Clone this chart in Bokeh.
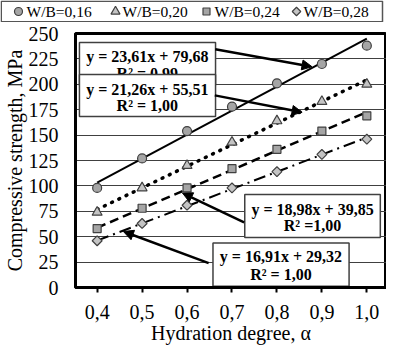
from bokeh.plotting import figure
from bokeh.layouts import column
from bokeh.models import (Range1d, FixedTicker, CustomJSTickFormatter,
                          Arrow, NormalHead)
from bokeh.core.properties import value
from bokeh.embed import file_html
from bokeh.resources import INLINE

# ---------------- data ----------------
hydration = [0.4, 0.5, 0.6, 0.7, 0.8, 0.9, 1.0]
series_labels = ["W/B=0,16", "W/B=0,20", "W/B=0,24", "W/B=0,28"]
wb016 = [98, 127, 154, 178, 201, 220, 238]
wb020 = [74, 98, 120, 143, 164, 183, 200]
wb024 = [58, 78, 98, 117, 136, 154, 169]
wb028 = [46, 63, 81, 98, 114, 131, 146]
# linear trend lines (value at alpha=0.4 and alpha=1.0)
trend_start = [103.3, 76.8, 58.8, 46.2]
trend_end = [244.9, 204.3, 172.7, 147.7]
equations = ["y = 23,61x + 79,68", "y = 21,26x + 55,51",
             "y = 18,98x + 39,85", "y = 16,91x + 29,32"]
r2_texts = ["R² = 0,99", "R² = 1,00", "R² =1,00", "R² = 1,00"]
y_ticks = [0, 25, 50, 75, 100, 125, 150, 175, 200, 225, 250]
x_ticks = [0.4, 0.5, 0.6, 0.7, 0.8, 0.9, 1.0]

series = [wb016, wb020, wb024, wb028]

# ---------------- styles ----------------
FONT = "Liberation Serif"
markers = ["circle", "triangle", "square", "square"]
marker_sizes = [9, 10, 8, 7]
legend_marker_sizes = [8, 9, 7, 6]
marker_angles = [0, 0, 0, 0.785398]
marker_fills = ["#a5a5a5", "#c4c4c4", "#a5a5a5", "#c4c4c4"]
line_dashes = ["solid", "1 7", "9 5", "12 5 2 5"]
line_widths = [2, 3.5, 2.5, 2]
line_caps = ["butt", "round", "butt", "butt"]

# annotation boxes (data coords): left, right, bottom, top, center x, line1 y, line2 y
boxes = [
    (0.3606, 0.6634, 199.0, 241.1, 0.5117, 226.9, 211.0),
    (0.3606, 0.6634, 168.3, 209.6, 0.5117, 194.9, 178.8),
    (0.7284, 1.0300, 49.3, 91.6, 0.8792, 76.9, 61.5),
    (0.6577, 0.9605, 1.3, 43.9, 0.8090, 30.5, 12.8),
]
arrows = [
    (0.6628, 234.6, 0.878, 217.3),
    (0.6617, 189.1, 0.856, 172.4),
    (0.7269, 64.1, 0.5898, 93.0),
    (0.6481, 24.0, 0.4584, 55.1),
]
# legend strip layout (pixel coords inside the strip)
leg_marker_x = [18, 115, 206, 296]
leg_text_x = [26, 122, 214, 303]

W = 386
LEG_H = 22
MAIN_H = 346 - LEG_H
TOP = 11
FRAME_H = 259

p = figure(width=W, height=MAIN_H, output_backend="svg", toolbar_location=None,
           x_range=Range1d(0.35183, 1.04375), y_range=Range1d(0, 250),
           min_border_left=70, min_border_right=0, min_border_top=TOP,
           min_border_bottom=MAIN_H - TOP - FRAME_H)
p.frame_align = False
p.background_fill_color = "white"
p.border_fill_color = "white"
p.outline_line_color = "black"
p.outline_line_width = 3
p.xgrid.visible = False
p.ygrid.grid_line_color = "#404040"
p.ygrid.grid_line_width = 1

# y axis
ya = p.yaxis[0]
ya.ticker = FixedTicker(ticks=y_ticks)
ya.major_tick_out = 0
ya.major_tick_in = 0
ya.minor_tick_out = 0
ya.minor_tick_in = 0
ya.axis_line_width = 3
ya.major_label_text_font = FONT
ya.major_label_text_font_size = "20px"
ya.major_label_text_color = "black"
ya.major_label_standoff = 17
ya.axis_label = "Compressive strength, MPa"
ya.axis_label_text_font = FONT
ya.axis_label_text_font_size = "20px"
ya.axis_label_text_font_style = "normal"
ya.axis_label_text_color = "black"
ya.axis_label_standoff = 0

# x axis
xa = p.xaxis[0]
xa.ticker = FixedTicker(ticks=x_ticks)
xa.formatter = CustomJSTickFormatter(code="return tick.toFixed(1).replace('.', ',');")
xa.major_tick_out = 5
xa.major_tick_in = 0
xa.major_tick_line_width = 2
xa.minor_tick_out = 0
xa.minor_tick_in = 0
xa.axis_line_width = 3
xa.major_label_text_font = FONT
xa.major_label_text_font_size = "20px"
xa.major_label_text_color = "black"
xa.major_label_standoff = 12
xa.axis_label = "Hydration degree, α"
xa.axis_label_text_font = FONT
xa.axis_label_text_font_size = "20px"
xa.axis_label_text_font_style = "normal"
xa.axis_label_text_color = "black"
xa.axis_label_standoff = 0

# trend lines
for i in range(4):
    p.line([hydration[0], hydration[-1]], [trend_start[i], trend_end[i]],
           line_color="black", line_width=line_widths[i],
           line_dash=line_dashes[i], line_cap=line_caps[i])

# markers
for i, ys in enumerate(series):
    p.scatter(hydration, ys, marker=markers[i], size=marker_sizes[i],
              angle=marker_angles[i], fill_color=marker_fills[i],
              line_color="#404040", line_width=1.2)

# equation boxes
for i, (l, rt, b, t, cx, y1, y2) in enumerate(boxes):
    p.quad(left=[l], right=[rt], bottom=[b], top=[t], fill_color="white",
           line_color="#404040", line_width=1.5)
    p.text(x=[cx, cx], y=[y1, y2], text=[equations[i], r2_texts[i]],
           text_font=value(FONT), text_font_style="bold", text_font_size="16px",
           text_align="center", text_baseline="middle", text_color="black")

for (xs, ys, xe, ye) in arrows:
    p.add_layout(Arrow(x_start=xs, y_start=ys, x_end=xe, y_end=ye,
                       line_color="black", line_width=2.5,
                       end=NormalHead(size=10, fill_color="black", line_color="black")))

# ---------------- legend strip (separate figure above the plot) ----------------
lg = figure(width=W, height=LEG_H, output_backend="svg", toolbar_location=None,
            x_range=Range1d(0, W), y_range=Range1d(0, LEG_H),
            x_axis_location=None, y_axis_location=None,
            min_border=0, min_border_left=0, min_border_right=0,
            min_border_top=0, min_border_bottom=0)
lg.frame_align = False
lg.grid.visible = False
lg.outline_line_color = None
lg.background_fill_color = "white"
lg.border_fill_color = "white"
lg.quad(left=[0.75], right=[382], bottom=[0.75], top=[LEG_H - 0.75],
        fill_color="white", line_color="#555555", line_width=1.5)
for i in range(4):
    lg.scatter([leg_marker_x[i]], [LEG_H / 2], marker=markers[i],
               size=legend_marker_sizes[i], angle=marker_angles[i],
               fill_color=marker_fills[i], line_color="#404040", line_width=1.2)
lg.text(x=leg_text_x, y=[LEG_H / 2] * 4, text=series_labels,
        text_font=value(FONT), text_font_size="15.5px", text_color="black",
        text_align="left", text_baseline="middle")

layout = column(lg, p, spacing=0)
open("out.html", "w").write(file_html(layout, INLINE))
